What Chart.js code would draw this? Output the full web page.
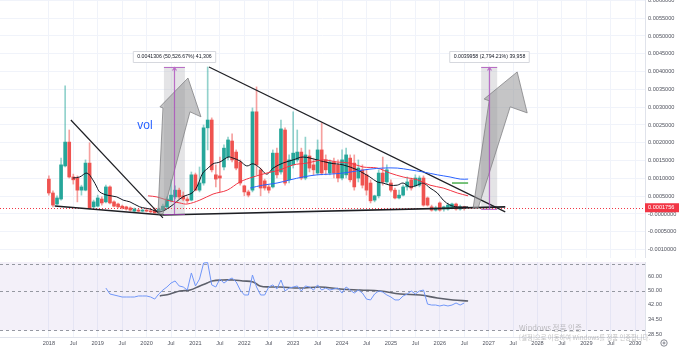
<!DOCTYPE html>
<html lang="ko">
<head>
  <meta charset="UTF-8" />
  <title>Monthly chart with RSI</title>
  <script src="https://cdn.jsdelivr.net/npm/chart.js"></script>
  <style>
    body { margin: 0; background: #fff; width: 679px; height: 350px; overflow: hidden; position: relative; }
    .pane { position: absolute; left: 0; }
    #pricePane { top: 0; }
    #rsiPane { top: 258px; }
  </style>
</head>
<body>
  <canvas id="pricePane" class="pane" width="679" height="258"></canvas>
  <canvas id="rsiPane" class="pane" width="679" height="92"></canvas>

  <script>
    // monthly candles, first one is Jan 2018
    const firstYear = 2018;
    const open = [
      0.00098, 0.00059, 0.00028, 0.00042, 0.00135, 0.00202, 0.00104, 0.00101, 0.00067, 0.00067,
      0.00143, 0.00020, 0.00022, 0.00042, 0.00034, 0.00076, 0.00034, 0.00028, 0.00022, 0.00020,
      0.00017, 0.00008, 0.00011, 0.00008, 0.00011, 0.00008, 0.00011, 0.00006, 0.00011, 0.00020,
      0.00037, 0.00048, 0.00067, 0.00051, 0.00042, 0.00039, 0.00110, 0.00067, 0.00087, 0.00242,
      0.00264, 0.00110, 0.00107, 0.00132, 0.00160, 0.00205, 0.00174, 0.00146, 0.00079, 0.00062,
      0.00067, 0.00287, 0.00124, 0.00093, 0.00076, 0.00076, 0.00171, 0.00118, 0.00236, 0.00096,
      0.00138, 0.00152, 0.00174, 0.00101, 0.00163, 0.00138, 0.00115, 0.00180, 0.00152, 0.00115,
      0.00146, 0.00138, 0.00101, 0.00110, 0.00157, 0.00143, 0.00101, 0.00124, 0.00110, 0.00087,
      0.00039, 0.00051, 0.00115, 0.00090, 0.00087, 0.00067, 0.00045, 0.00053, 0.00076, 0.00096,
      0.00079, 0.00081, 0.00101, 0.00045, 0.00020, 0.00011, 0.00031, 0.00014, 0.00014, 0.00017,
      0.00028, 0.00014, 0.00020
    ];
    const high = [
      0.00107, 0.00065, 0.00051, 0.00157, 0.00360, 0.00236, 0.00112, 0.00107, 0.00081, 0.00152,
      0.00200, 0.00039, 0.00053, 0.00048, 0.00081, 0.00079, 0.00037, 0.00031, 0.00025, 0.00022,
      0.00020, 0.00017, 0.00014, 0.00014, 0.00014, 0.00014, 0.00017, 0.00017, 0.00028, 0.00048,
      0.00096, 0.00079, 0.00073, 0.00062, 0.00048, 0.00118, 0.00115, 0.00132, 0.00250, 0.00413,
      0.00270, 0.00138, 0.00160, 0.00194, 0.00216, 0.00225, 0.00180, 0.00152, 0.00081, 0.00067,
      0.00298, 0.00357, 0.00129, 0.00098, 0.00081, 0.00180, 0.00185, 0.00264, 0.00242, 0.00166,
      0.00287, 0.00236, 0.00185, 0.00216, 0.00180, 0.00157, 0.00208, 0.00256, 0.00166, 0.00152,
      0.00157, 0.00152, 0.00180, 0.00185, 0.00166, 0.00166, 0.00152, 0.00138, 0.00124, 0.00096,
      0.00053, 0.00124, 0.00160, 0.00138, 0.00096, 0.00073, 0.00067, 0.00081, 0.00104, 0.00101,
      0.00110, 0.00107, 0.00107, 0.00048, 0.00025, 0.00022, 0.00034, 0.00022, 0.00031, 0.00031,
      0.00031, 0.00025, 0.00022
    ];
    const low = [
      0.00053, 0.00020, 0.00025, 0.00039, 0.00132, 0.00101, 0.00084, 0.00034, 0.00053, 0.00065,
      0.00014, 0.00017, 0.00020, 0.00025, 0.00031, 0.00028, 0.00020, 0.00017, 0.00014, 0.00011,
      0.00008, 0.00006, 0.00006, 0.00006, 0.00006, 0.00003, 0.00003, 0.00003, 0.00008, 0.00017,
      0.00034, 0.00042, 0.00042, 0.00037, 0.00031, 0.00037, 0.00065, 0.00062, 0.00081, 0.00180,
      0.00118, 0.00076, 0.00062, 0.00124, 0.00152, 0.00146, 0.00124, 0.00081, 0.00051, 0.00048,
      0.00062, 0.00110, 0.00051, 0.00067, 0.00059, 0.00073, 0.00101, 0.00112, 0.00081, 0.00087,
      0.00129, 0.00146, 0.00096, 0.00096, 0.00118, 0.00110, 0.00110, 0.00110, 0.00110, 0.00110,
      0.00101, 0.00090, 0.00096, 0.00101, 0.00090, 0.00067, 0.00090, 0.00073, 0.00053, 0.00031,
      0.00034, 0.00045, 0.00081, 0.00084, 0.00062, 0.00042, 0.00042, 0.00051, 0.00067, 0.00067,
      0.00076, 0.00076, 0.00022, 0.00022, 0.00008, 0.00008, 0.00008, 0.00008, 0.00011, 0.00014,
      0.00011, 0.00011, 0.00011
    ];
    const close = [
      0.00059, 0.00025, 0.00045, 0.00138, 0.00202, 0.00104, 0.00096, 0.00067, 0.00076, 0.00143,
      0.00017, 0.00034, 0.00045, 0.00031, 0.00076, 0.00031, 0.00022, 0.00020, 0.00017, 0.00014,
      0.00011, 0.00014, 0.00008, 0.00011, 0.00008, 0.00006, 0.00003, 0.00014, 0.00022, 0.00042,
      0.00053, 0.00067, 0.00048, 0.00042, 0.00037, 0.00110, 0.00067, 0.00087, 0.00242, 0.00264,
      0.00124, 0.00098, 0.00101, 0.00185, 0.00208, 0.00152, 0.00129, 0.00087, 0.00062, 0.00053,
      0.00287, 0.00138, 0.00073, 0.00073, 0.00067, 0.00171, 0.00110, 0.00239, 0.00087, 0.00152,
      0.00171, 0.00174, 0.00101, 0.00166, 0.00129, 0.00124, 0.00180, 0.00115, 0.00124, 0.00146,
      0.00115, 0.00101, 0.00152, 0.00166, 0.00096, 0.00076, 0.00129, 0.00081, 0.00067, 0.00037,
      0.00051, 0.00115, 0.00090, 0.00124, 0.00067, 0.00045, 0.00053, 0.00076, 0.00090, 0.00073,
      0.00101, 0.00101, 0.00025, 0.00025, 0.00011, 0.00017, 0.00011, 0.00020, 0.00025, 0.00028,
      0.00014, 0.00020, 0.0001756
    ];
    const lastPrice = 0.0001756;

    // moving averages as [year, price]
    const maFast = [
      [2018.49, 0.00101], [2018.63, 0.00104], [2018.78, 0.00115], [2018.90, 0.00096], [2018.98, 0.00076],
      [2019.04, 0.00062], [2019.19, 0.00053], [2019.39, 0.00048], [2019.52, 0.00039], [2019.66, 0.00034],
      [2019.86, 0.00020], [2020.07, 0.00014], [2020.27, 0.00006], [2020.48, 0.00020], [2020.74, 0.00048],
      [2020.93, 0.00059], [2021.03, 0.00076], [2021.15, 0.00115], [2021.26, 0.00129], [2021.36, 0.00141],
      [2021.50, 0.00146], [2021.67, 0.00160], [2021.77, 0.00157], [2021.91, 0.00149], [2022.05, 0.00135],
      [2022.18, 0.00141], [2022.32, 0.00129], [2022.46, 0.00112], [2022.59, 0.00129], [2022.79, 0.00143],
      [2023.00, 0.00152], [2023.20, 0.00160], [2023.49, 0.00152], [2023.75, 0.00143], [2024.02, 0.00138],
      [2024.31, 0.00124], [2024.43, 0.00115], [2024.57, 0.00104], [2024.72, 0.00090], [2024.84, 0.00087],
      [2024.98, 0.00081], [2025.13, 0.00081], [2025.25, 0.00087], [2025.39, 0.00076], [2025.54, 0.00081],
      [2025.66, 0.00087], [2025.80, 0.00073], [2025.95, 0.00059], [2026.07, 0.00039], [2026.21, 0.00025],
      [2026.36, 0.00020], [2026.58, 0.00020]
    ];
    const maMid = [
      [2020.03, 0.00051], [2020.21, 0.00048], [2020.42, 0.00039], [2020.68, 0.00031], [2020.83, 0.00028],
      [2021.09, 0.00039], [2021.36, 0.00056], [2021.65, 0.00067], [2021.91, 0.00090], [2022.18, 0.00104],
      [2022.46, 0.00115], [2022.73, 0.00124], [2023.00, 0.00138], [2023.28, 0.00143], [2023.61, 0.00152],
      [2023.90, 0.00146], [2024.16, 0.00143], [2024.43, 0.00132], [2024.72, 0.00129], [2024.98, 0.00115],
      [2025.25, 0.00104], [2025.54, 0.00096], [2025.80, 0.00081], [2026.07, 0.00073], [2026.36, 0.00059],
      [2026.58, 0.00051]
    ];
    const maSlow = [
      [2022.12, 0.00073], [2022.38, 0.00081], [2022.67, 0.00087], [2022.94, 0.00096], [2023.20, 0.00104],
      [2023.49, 0.00110], [2023.75, 0.00112], [2024.02, 0.00115], [2024.31, 0.00121], [2024.57, 0.00126],
      [2024.84, 0.00129], [2025.13, 0.00129], [2025.39, 0.00124], [2025.66, 0.00118], [2025.95, 0.00110],
      [2026.21, 0.00104], [2026.42, 0.00098], [2026.58, 0.00098]
    ];
    const greenLevel = [[2026.25, 0.00087], [2026.58, 0.00087]];

    // RSI, starting at the 15th month
    const rsiStart = 14;
    const rsi = [
      51.6, 47.8, 47.2, 46.6, 46.0, 46.0, 46.0, 46.0, 46.6, 46.6,
      46.6, 46.0, 44.8, 47.8, 50.3, 52.3, 55.0, 56.5, 53.0, 52.3,
      50.3, 62.6, 53.0, 57.9, 71.1, 71.5, 53.7, 52.3, 57.9, 55.0,
      57.2, 58.7, 55.8, 50.3, 47.2, 47.2, 61.0, 52.3, 47.2, 47.2,
      52.3, 53.7, 51.0, 57.2, 49.7, 51.6, 52.3, 53.0, 49.7, 53.0,
      52.3, 50.3, 53.7, 50.3, 51.6, 50.3, 51.0, 51.6, 48.4, 52.3,
      50.3, 48.4, 50.3, 48.4, 44.8, 44.3, 47.8, 49.7, 49.0, 47.2,
      46.0, 44.3, 44.3, 46.6, 47.8, 49.7, 47.8, 49.7, 50.3, 42.0,
      41.5, 41.5, 41.0, 41.5, 41.0, 41.5, 42.6, 41.5, 42.6
    ];
    const rsiMa = [
      [2020.27, 46.6], [2020.48, 47.8], [2020.68, 49.7], [2020.89, 50.3], [2021.09, 53.0],
      [2021.24, 55.0], [2021.34, 56.5], [2021.56, 57.2], [2021.77, 57.2], [2021.97, 56.5],
      [2022.18, 55.8], [2022.32, 53.0], [2022.53, 52.3], [2022.73, 52.3], [2023.14, 51.6],
      [2023.55, 52.3], [2023.96, 51.0], [2024.37, 50.3], [2024.78, 49.7], [2025.19, 47.8],
      [2025.60, 47.2], [2025.95, 45.4], [2026.27, 44.3], [2026.58, 43.7]
    ];
    const rsiTicks = [60, 50, 42, 34.5, 28.5];
    const rsiLevels = [70, 50, 30];

    // drawings on the price pane
    const trendLines = [
      [[2018.45, 0.00264], [2020.335, -0.00011]],
      [[2021.277, 0.00413], [2027.34, 0.00006]],
      [[2018.12, 0.000225], [2020.335, -0.00003]],
      [[2020.335, -0.00003], [2027.34, 0.0002]]
    ];
    const measures = [
      { x0: 2020.355, x1: 2020.785, xm: 2020.56, lo: 0.0000082, hi: 0.0041388, text: '0.0041306 (50,526.67%) 41,306' },
      { x0: 2026.847, x1: 2027.175, xm: 2027.01, lo: 0.000143, hi: 0.0041388, text: '0.0039958 (2,794.21%) 39,958' }
    ];
    const arrows = [
      [[2020.232, 0], [2020.335, 0.00298], [2020.273, 0.00301], [2020.847, 0.00382], [2021.113, 0.00273], [2020.888, 0.00287], [2020.335, 0]],
      [[2026.683, 0.00017], [2027.011, 0.00318], [2026.908, 0.00323], [2027.584, 0.00399], [2027.789, 0.00284], [2027.441, 0.00301], [2026.786, 0.00017]]
    ];
    const volNote = { x: 2019.966, y: 0.00247, text: 'vol' };

    const FONT = '"Liberation Sans", Arial, sans-serif';
    const AXIS_W = 34;
    const X_MIN = 2017, X_MAX = 2030.2;
    const UP = '#26a69a', DOWN = '#ef5350';
    const AXIS_TEXT = '#50535e';

    const monthX = open.map((_, i) => firstYear + i / 12);
    const isUp = i => close[i] >= open[i];
    const toPoints = arr => arr.map(p => ({ x: p[0], y: p[1] }));

    function timeAxis(showLabels) {
      return {
        type: 'linear',
        min: X_MIN,
        max: X_MAX,
        offset: false,
        grid: {
          offset: false,
          color: c => (c.tick && c.tick.value >= 2018 ? '#f0f3fa' : 'rgba(0,0,0,0)'),
          drawTicks: showLabels,
          tickLength: 3,
          tickColor: 'rgba(0,0,0,0)'
        },
        border: { display: true, color: '#e0e3eb' },
        ticks: {
          display: showLabels,
          stepSize: 0.5,
          autoSkip: false,
          maxRotation: 0,
          includeBounds: false,
          padding: 0,
          color: AXIS_TEXT,
          font: { family: FONT, size: 5.6 },
          callback: v => {
            if (v < 2018) return '';
            return Math.abs(v - Math.round(v)) < 1e-6 ? String(Math.round(v)) : 'Jul';
          }
        },
        afterFit: s => {
          s.height = showLabels ? 13 : 0;
          s.paddingLeft = 0;
          s.paddingRight = 0;
        }
      };
    }

    const pricePaneDecor = {
      id: 'pricePaneDecor',
      beforeDatasetsDraw(chart) {
        const { ctx, chartArea: a, scales: { x, y } } = chart;
        ctx.save();
        measures.forEach(m => {
          const x0 = x.getPixelForValue(m.x0), x1 = x.getPixelForValue(m.x1);
          const yt = y.getPixelForValue(m.hi), yb = y.getPixelForValue(m.lo);
          ctx.fillStyle = 'rgba(190,190,195,0.42)';
          ctx.fillRect(x0, yt, x1 - x0, yb - yt);
        });
        const py = Math.round(y.getPixelForValue(lastPrice)) + 0.5;
        ctx.strokeStyle = '#f23645';
        ctx.lineWidth = 1;
        ctx.setLineDash([1, 2]);
        ctx.beginPath();
        ctx.moveTo(a.left, py);
        ctx.lineTo(a.right, py);
        ctx.stroke();
        ctx.restore();
      },
      afterDatasetsDraw(chart) {
        const { ctx, scales: { x, y } } = chart;
        ctx.save();

        // big hand-drawn arrows
        arrows.forEach(poly => {
          ctx.beginPath();
          poly.forEach((p, k) => {
            const px = x.getPixelForValue(p[0]), py = y.getPixelForValue(p[1]);
            if (k === 0) ctx.moveTo(px, py); else ctx.lineTo(px, py);
          });
          ctx.closePath();
          ctx.fillStyle = 'rgba(150,150,152,0.55)';
          ctx.fill();
          ctx.strokeStyle = 'rgba(125,125,128,0.75)';
          ctx.lineWidth = 1;
          ctx.stroke();
        });

        // price range measures
        measures.forEach(m => {
          const x0 = x.getPixelForValue(m.x0), x1 = x.getPixelForValue(m.x1);
          const xm = Math.round(x.getPixelForValue(m.xm)) + 0.5;
          const yt = Math.round(y.getPixelForValue(m.hi)) + 0.5;
          const yb = Math.round(y.getPixelForValue(m.lo)) + 0.5;
          ctx.strokeStyle = 'rgba(171,71,188,0.75)';
          ctx.lineWidth = 1.2;
          ctx.beginPath();
          ctx.moveTo(xm, yb); ctx.lineTo(xm, yt);
          ctx.moveTo(x0, yt); ctx.lineTo(x1, yt);
          ctx.moveTo(x0, yb); ctx.lineTo(x1, yb);
          ctx.moveTo(xm - 2, yt + 3); ctx.lineTo(xm, yt); ctx.lineTo(xm + 2, yt + 3);
          ctx.stroke();

          ctx.font = '5.2px ' + FONT;
          const tw = ctx.measureText(m.text).width;
          const bw = tw + 8, bh = 11;
          const bx = xm - bw / 2, by = yt - 16;
          ctx.fillStyle = '#ffffff';
          ctx.strokeStyle = '#d6d8de';
          ctx.lineWidth = 1;
          ctx.beginPath();
          ctx.rect(bx, by, bw, bh);
          ctx.fill();
          ctx.stroke();
          ctx.fillStyle = '#131722';
          ctx.textAlign = 'center';
          ctx.textBaseline = 'middle';
          ctx.fillText(m.text, xm, by + bh / 2);
        });

        ctx.fillStyle = '#2962ff';
        ctx.font = '12px ' + FONT;
        ctx.textAlign = 'center';
        ctx.textBaseline = 'middle';
        ctx.fillText(volNote.text, x.getPixelForValue(volNote.x), y.getPixelForValue(volNote.y));
        ctx.restore();
      },
      afterDraw(chart) {
        const { ctx, chartArea: a, scales: { y } } = chart;
        const py = y.getPixelForValue(lastPrice);
        ctx.save();
        ctx.fillStyle = '#f23645';
        ctx.fillRect(a.right, py - 4.5, chart.width - a.right, 9);
        ctx.fillStyle = '#ffffff';
        ctx.font = '5.6px ' + FONT;
        ctx.textAlign = 'left';
        ctx.textBaseline = 'middle';
        ctx.fillText(lastPrice.toFixed(7), a.right + 3, py);
        ctx.restore();
      }
    };

    const rsiPaneDecor = {
      id: 'rsiPaneDecor',
      beforeDatasetsDraw(chart) {
        const { ctx, chartArea: a, scales: { y } } = chart;
        ctx.save();
        ctx.fillStyle = 'rgba(126,87,194,0.09)';
        const y30 = y.getPixelForValue(30);
        ctx.fillRect(a.left, a.top, a.right - a.left, y30 - a.top);
        ctx.strokeStyle = '#9598a1';
        ctx.lineWidth = 1;
        ctx.setLineDash([3, 3]);
        rsiLevels.forEach(v => {
          const py = Math.round(y.getPixelForValue(v)) + 0.5;
          ctx.beginPath();
          ctx.moveTo(a.left, py);
          ctx.lineTo(a.right, py);
          ctx.stroke();
        });
        ctx.restore();
      },
      afterDraw(chart) {
        const { ctx } = chart;
        ctx.save();
        ctx.fillStyle = 'rgba(140,140,140,0.55)';
        ctx.textAlign = 'left';
        ctx.textBaseline = 'middle';
        ctx.font = '7.5px "Noto Sans CJK KR", sans-serif';
        ctx.fillText('Windows 정품 인증', 519, 70);
        ctx.font = '6.3px "Noto Sans CJK KR", sans-serif';
        ctx.fillText('[설정]으로 이동하여 Windows를 정품 인증합니다.', 519, 80);
        ctx.strokeStyle = '#6a6d78';
        ctx.lineWidth = 0.8;
        ctx.beginPath();
        ctx.arc(664, 85, 3.2, 0, Math.PI * 2);
        ctx.stroke();
        ctx.beginPath();
        ctx.arc(664, 85, 1, 0, Math.PI * 2);
        ctx.stroke();
        ctx.restore();
      }
    };

    const lineStyle = (color, width) => ({
      type: 'line', borderColor: color, borderWidth: width, pointRadius: 0,
      fill: false, tension: 0.35, order: 0
    });

    new Chart(document.getElementById('pricePane'), {
      type: 'bar',
      data: {
        datasets: [
          {
            label: 'wick',
            data: monthX.map((x, i) => ({ x, y: [low[i], high[i]] })),
            backgroundColor: ctx => (isUp(ctx.dataIndex) ? 'rgba(38,166,154,0.5)' : 'rgba(239,83,80,0.55)'),
            barThickness: 1,
            grouped: false,
            order: 2
          },
          {
            label: 'body',
            data: monthX.map((x, i) => ({ x, y: [Math.min(open[i], close[i]), Math.max(open[i], close[i])] })),
            backgroundColor: ctx => (isUp(ctx.dataIndex) ? UP : DOWN),
            barThickness: 3,
            minBarLength: 1,
            grouped: false,
            order: 1
          },
          { ...lineStyle('#2962ff', 1), data: toPoints(maSlow) },
          { ...lineStyle('#f23645', 1), data: toPoints(maMid) },
          { ...lineStyle('#131722', 1), data: toPoints(maFast) },
          { ...lineStyle('#4caf50', 1.5), tension: 0, data: toPoints(greenLevel) },
          ...trendLines.map((seg, k) => ({
            ...lineStyle('#1e1f24', k < 2 ? 1.2 : 1.6), tension: 0, data: toPoints(seg)
          }))
        ]
      },
      options: {
        responsive: false,
        animation: false,
        events: [],
        layout: { padding: 0 },
        plugins: { legend: { display: false }, tooltip: { enabled: false } },
        scales: {
          x: timeAxis(false),
          y: {
            position: 'right',
            min: -0.001236,
            max: 0.006011,
            grid: { color: '#f0f3fa', drawTicks: false },
            border: { display: true, color: '#e0e3eb' },
            ticks: {
              stepSize: 0.0005,
              includeBounds: false,
              padding: 3,
              color: AXIS_TEXT,
              font: { family: FONT, size: 5.6 },
              callback: v => (Math.abs(v) < 1e-9 ? '-0.0000000' : Number(v).toFixed(7))
            },
            afterFit: s => { s.width = AXIS_W; s.paddingTop = 0; s.paddingBottom = 0; }
          }
        }
      },
      plugins: [pricePaneDecor]
    });

    new Chart(document.getElementById('rsiPane'), {
      type: 'line',
      data: {
        datasets: [
          {
            ...lineStyle('#7096f8', 1), tension: 0,
            data: rsi.map((v, k) => ({ x: firstYear + (rsiStart + k) / 12, y: v }))
          },
          { ...lineStyle('#5d606b', 1.6), tension: 0.4, data: toPoints(rsiMa) }
        ]
      },
      options: {
        responsive: false,
        animation: false,
        events: [],
        layout: { padding: { top: 4 } },
        plugins: { legend: { display: false }, tooltip: { enabled: false } },
        scales: {
          x: timeAxis(true),
          y: {
            type: 'logarithmic',
            position: 'right',
            min: 27.55,
            max: 72.05,
            grid: { display: false, drawTicks: false },
            border: { display: true, color: '#e0e3eb' },
            afterBuildTicks: s => { s.ticks = rsiTicks.map(v => ({ value: v })); },
            ticks: {
              padding: 3,
              color: AXIS_TEXT,
              font: { family: FONT, size: 5.6 },
              callback: v => Number(v).toFixed(2)
            },
            afterFit: s => { s.width = AXIS_W; s.paddingTop = 0; s.paddingBottom = 0; }
          }
        }
      },
      plugins: [rsiPaneDecor]
    });
  </script>
</body>
</html>
